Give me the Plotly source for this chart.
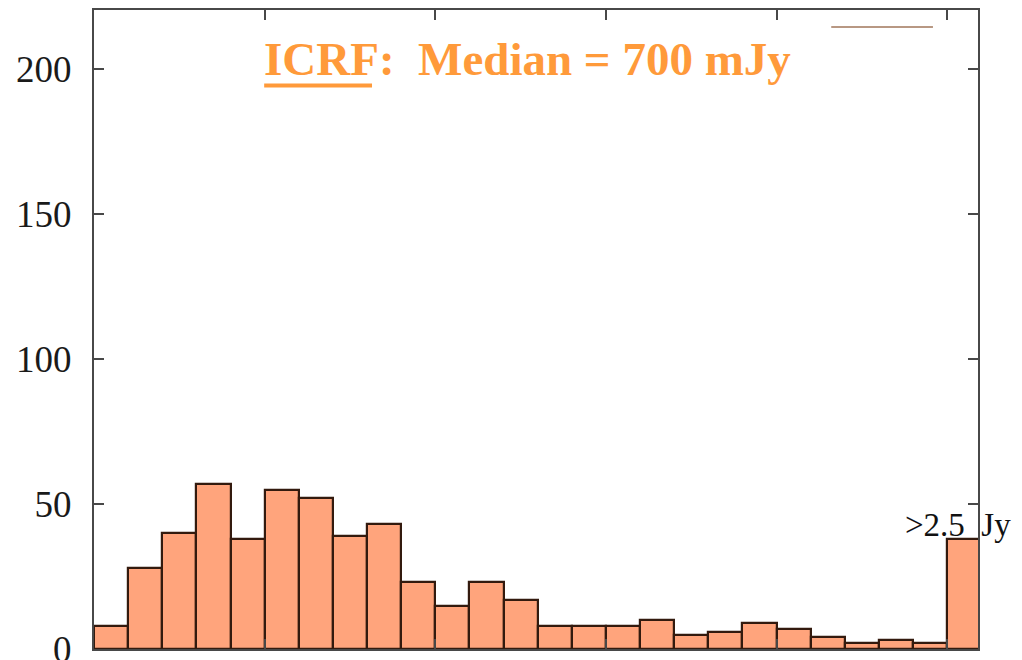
import plotly.graph_objects as go

# Flux-density bins (Jy): 0.1 Jy wide, last bin collects everything above 2.5 Jy
bin_left = [round(0.1 * i, 1) for i in range(26)]
counts = [8, 28, 40, 57, 38, 55, 52, 39, 43, 23, 15, 23, 17,
          8, 8, 8, 10, 5, 6, 9, 7, 4, 2, 3, 2, 38]
bin_width = 0.1
y_ticks = [0, 50, 100, 150, 200]
x_ticks = [0.5, 1.0, 1.5, 2.0, 2.5]

serif = "Liberation Serif, Times New Roman, serif"
axis_col = "#484848"
title_col = "#FF9A3A"

bin_centers = [b + bin_width / 2 for b in bin_left]

fig = go.Figure()
fig.add_trace(go.Bar(
    x=bin_centers,
    y=counts,
    width=bin_width,
    marker=dict(color="#FFA47C", line=dict(color="#331a0e", width=2.2)),
    showlegend=False,
))

fig.update_layout(
    width=1022,
    height=660,
    margin=dict(l=94, r=44, t=10, b=11, autoexpand=False),
    paper_bgcolor="white",
    plot_bgcolor="white",
    bargap=0,
    showlegend=False,
    xaxis=dict(
        range=[0, 2.59],
        tickvals=x_ticks,
        showticklabels=False,
        ticks="inside",
        ticklen=10,
        tickwidth=2,
        tickcolor=axis_col,
        showline=True,
        linecolor=axis_col,
        linewidth=2,
        mirror="ticks",
        showgrid=False,
        zeroline=False,
        automargin=False,
    ),
    yaxis=dict(
        range=[0, 220.5],
        tickvals=y_ticks,
        ticks="inside",
        ticklen=10,
        tickwidth=2,
        tickcolor=axis_col,
        showline=True,
        linecolor=axis_col,
        linewidth=2,
        mirror="ticks",
        showgrid=False,
        zeroline=False,
        tickfont=dict(family=serif, size=37, color="#1a1a1a"),
        ticklabelstandoff=13,
        ticklabeloverflow="allow",
        automargin=False,
    ),
)

# Heading with the catalogue median flux
fig.add_annotation(
    xref="paper", yref="paper",
    x=0.4905, y=0.923,
    xanchor="center", yanchor="middle",
    text="<b>ICRF:\u00a0\u00a0Median = 700 mJy</b>",
    showarrow=False,
    font=dict(family=serif, size=47, color=title_col),
)

# Heavy underline beneath the catalogue name
fig.add_shape(
    type="line", xref="paper", yref="paper",
    x0=0.1925, x1=0.3145, y0=0.882, y1=0.882,
    line=dict(color=title_col, width=4),
)

# Overflow bin label
fig.add_annotation(
    x=bin_centers[-1], y=counts[-1],
    xanchor="center", yanchor="bottom",
    xshift=-6, yshift=-6,
    text=">2.5\u00a0\u00a0Jy",
    showarrow=False,
    font=dict(family=serif, size=33, color="#111111"),
)

# Short key stroke near the top edge
fig.add_shape(
    type="line", xref="x", yref="y",
    x0=2.16, x1=2.458, y0=214.6, y1=214.6,
    line=dict(color="#a0765a", width=1.5),
)

fig.write_html("out.html")
